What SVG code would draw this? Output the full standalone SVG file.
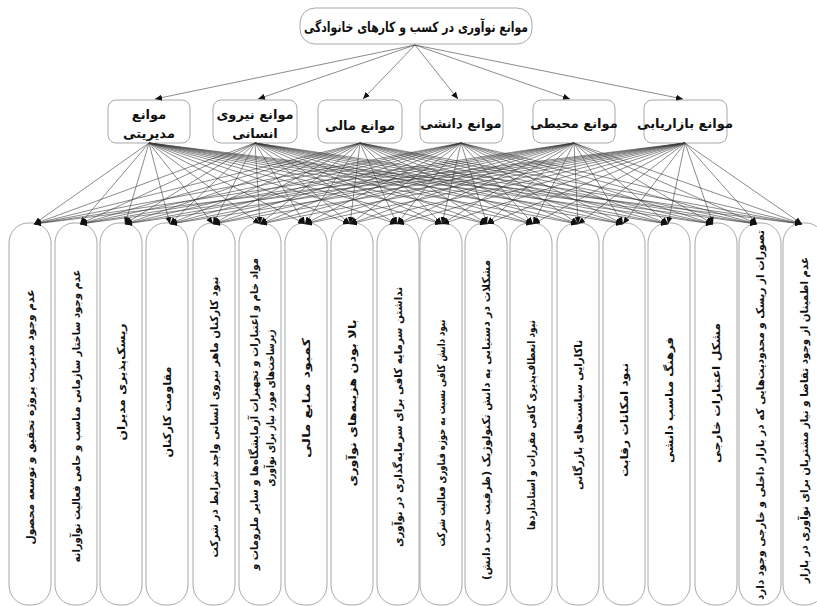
<svg xmlns="http://www.w3.org/2000/svg" width="817" height="606" viewBox="0 0 817 606">
<defs>
<marker id="ah" markerWidth="7" markerHeight="6" refX="7" refY="3" orient="auto" markerUnits="userSpaceOnUse"><path d="M0,0 L7,3 L0,6 z" fill="#111"/></marker>
<style>
.box{fill:#fff;stroke:#a8a8a8;stroke-width:1}
.e{stroke:#3c3c3c;stroke-width:0.6;fill:none;marker-end:url(#ah)}
.t{font-family:"DejaVu Sans","Noto Sans",sans-serif;font-weight:bold;fill:#111}
.m{font-size:13px;text-anchor:middle}
.b{font-size:11px;text-anchor:middle;dominant-baseline:central}
</style>
</defs>
<rect width="817" height="606" fill="#fff"/>

<g id="top">
<rect class="box" x="300" y="8" width="232" height="36" rx="15"/>
<text class="t m" x="416" y="32" direction="rtl" textLength="224" lengthAdjust="spacingAndGlyphs" style="font-size:14px">موانع نوآوری در کسب و کارهای خانوادگی</text>
</g>

<g id="m1"><rect class="box" x="108" y="100" width="82" height="43" rx="8"/>
<text class="t m" x="149" y="119" direction="rtl">موانع</text><text class="t m" x="149" y="138" direction="rtl">مدیریتی</text></g>
<g id="m2"><rect class="box" x="213" y="100" width="84" height="43" rx="8"/>
<text class="t m" x="255" y="119" direction="rtl">موانع نیروی</text><text class="t m" x="255" y="138" direction="rtl">انسانی</text></g>
<g id="m3"><rect class="box" x="318" y="100" width="84" height="43" rx="8"/>
<text class="t m" x="360" y="130" direction="rtl">موانع مالی</text></g>
<g id="m4"><rect class="box" x="420" y="100" width="83" height="43" rx="8"/>
<text class="t m" x="461" y="128" direction="rtl">موانع دانشی</text></g>
<g id="m5"><rect class="box" x="533" y="100" width="82" height="43" rx="8"/>
<text class="t m" x="574" y="128" direction="rtl">موانع محیطی</text></g>
<g id="m6"><rect class="box" x="644" y="100" width="83" height="43" rx="8"/>
<text class="t m" x="685" y="128" direction="rtl">موانع بازاریابی</text></g>

<g id="b1"><rect class="box" x="9" y="223" width="42" height="382" rx="19" ry="20"/>
<text class="t b" transform="translate(30,417) rotate(-90)" direction="rtl" textLength="255" lengthAdjust="spacingAndGlyphs">عدم وجود مدیریت پروژه تحقیق و توسعه محصول</text></g>
<g id="b2"><rect class="box" x="55" y="223" width="42" height="382" rx="19" ry="20"/>
<text class="t b" transform="translate(76,416) rotate(-90)" direction="rtl" textLength="293" lengthAdjust="spacingAndGlyphs">عدم وجود ساختار سازمانی مناسب و حامی فعالیت نوآورانه</text></g>
<g id="b3"><rect class="box" x="100" y="223" width="42" height="382" rx="19" ry="20"/>
<text class="t b" transform="translate(121,382) rotate(-90)" direction="rtl" textLength="117" lengthAdjust="spacingAndGlyphs">ریسک‌پذیری مدیران</text></g>
<g id="b4"><rect class="box" x="146" y="223" width="42" height="382" rx="19" ry="20"/>
<text class="t b" transform="translate(167,412) rotate(-90)" direction="rtl" textLength="91" lengthAdjust="spacingAndGlyphs">مقاومت کارکنان</text></g>
<g id="b5"><rect class="box" x="193" y="223" width="42" height="382" rx="19" ry="20"/>
<text class="t b" transform="translate(214,417) rotate(-90)" direction="rtl" textLength="281" lengthAdjust="spacingAndGlyphs">نبود کارکنان ماهر نیروی انسانی واجد شرایط در شرکت</text></g>
<g id="b6"><rect class="box" x="239" y="223" width="42" height="382" rx="19" ry="20"/>
<text class="t b" transform="translate(254,414) rotate(-90)" direction="rtl" textLength="312" lengthAdjust="spacingAndGlyphs">مواد خام و اعتبارات و تجهیزات آزمایشگاه‌ها و سایر ملزومات و</text>
<text class="t b" transform="translate(270,408) rotate(-90)" direction="rtl" textLength="157" lengthAdjust="spacingAndGlyphs">زیرساخت‌های مورد نیاز برای نوآوری</text></g>
<g id="b7"><rect class="box" x="285" y="223" width="42" height="382" rx="19" ry="20"/>
<text class="t b" transform="translate(306,398) rotate(-90)" direction="rtl" textLength="120" lengthAdjust="spacingAndGlyphs">کمبود منابع مالی</text></g>
<g id="b8"><rect class="box" x="331" y="223" width="42" height="382" rx="19" ry="20"/>
<text class="t b" transform="translate(352,403) rotate(-90)" direction="rtl" textLength="167" lengthAdjust="spacingAndGlyphs">بالا بودن هزینه‌های نوآوری</text></g>
<g id="b9"><rect class="box" x="377" y="223" width="42" height="382" rx="19" ry="20"/>
<text class="t b" transform="translate(398,417) rotate(-90)" direction="rtl" textLength="260" lengthAdjust="spacingAndGlyphs">نداشتن سرمایه کافی برای سرمایه‌گذاری در نوآوری</text></g>
<g id="b10"><rect class="box" x="420" y="223" width="42" height="382" rx="19" ry="20"/>
<text class="t b" transform="translate(441,433) rotate(-90)" direction="rtl" textLength="227" lengthAdjust="spacingAndGlyphs">نبود دانش کافی نسبت به حوزه فناوری فعالیت شرکت</text></g>
<g id="b11"><rect class="box" x="465" y="223" width="42" height="382" rx="19" ry="20"/>
<text class="t b" transform="translate(486,420) rotate(-90)" direction="rtl" textLength="320" lengthAdjust="spacingAndGlyphs">مشکلات در دستیابی به دانش تکنولوژیک (ظرفیت جذب دانش)</text></g>
<g id="b12"><rect class="box" x="510" y="223" width="42" height="382" rx="19" ry="20"/>
<text class="t b" transform="translate(531,425) rotate(-90)" direction="rtl" textLength="210" lengthAdjust="spacingAndGlyphs">نبود انعطاف‌پذیری کافی مقررات و استانداردها</text></g>
<g id="b13"><rect class="box" x="557" y="223" width="42" height="382" rx="19" ry="20"/>
<text class="t b" transform="translate(578,415) rotate(-90)" direction="rtl" textLength="150" lengthAdjust="spacingAndGlyphs">ناکارایی سیاست‌های بازرگانی</text></g>
<g id="b14"><rect class="box" x="603" y="223" width="42" height="382" rx="19" ry="20"/>
<text class="t b" transform="translate(624,420) rotate(-90)" direction="rtl" textLength="114" lengthAdjust="spacingAndGlyphs">نبود امکانات رقابت</text></g>
<g id="b15"><rect class="box" x="648" y="223" width="42" height="382" rx="19" ry="20"/>
<text class="t b" transform="translate(669,400) rotate(-90)" direction="rtl" textLength="126" lengthAdjust="spacingAndGlyphs">فرهنگ مناسب دانشی</text></g>
<g id="b16"><rect class="box" x="695" y="223" width="42" height="382" rx="19" ry="20"/>
<text class="t b" transform="translate(716,393) rotate(-90)" direction="rtl" textLength="140" lengthAdjust="spacingAndGlyphs">مشکل اعتبارات خارجی</text></g>
<g id="b17"><rect class="box" x="739" y="223" width="42" height="382" rx="19" ry="20"/>
<text class="t b" transform="translate(760,415) rotate(-90)" direction="rtl" textLength="370" lengthAdjust="spacingAndGlyphs">تصورات از ریسک و محدودیت‌هایی که در بازار داخلی و خارجی وجود دارد</text></g>
<g id="b18"><rect class="box" x="783" y="223" width="42" height="382" rx="19" ry="20"/>
<text class="t b" transform="translate(804,420) rotate(-90)" direction="rtl" textLength="326" lengthAdjust="spacingAndGlyphs">عدم اطمینان از وجود تقاضا و نیاز مشتریان برای نوآوری در بازار</text></g>

<g id="connectors">
<line class="e" x1="415" y1="45" x2="155" y2="99"/>
<line class="e" x1="415" y1="45" x2="258" y2="99"/>
<line class="e" x1="415" y1="45" x2="363" y2="99"/>
<line class="e" x1="415" y1="45" x2="458" y2="99"/>
<line class="e" x1="415" y1="45" x2="570" y2="99"/>
<line class="e" x1="415" y1="45" x2="683" y2="99"/>

<line class="e" x1="149" y1="143" x2="34" y2="224"/>
<line class="e" x1="149" y1="143" x2="80" y2="224"/>
<line class="e" x1="149" y1="143" x2="125" y2="224"/>
<line class="e" x1="149" y1="143" x2="170" y2="224"/>
<line class="e" x1="149" y1="143" x2="213" y2="224"/>
<line class="e" x1="149" y1="143" x2="260" y2="224"/>
<line class="e" x1="149" y1="143" x2="305" y2="224"/>
<line class="e" x1="149" y1="143" x2="350" y2="224"/>
<line class="e" x1="149" y1="143" x2="397" y2="224"/>
<line class="e" x1="149" y1="143" x2="442" y2="224"/>
<line class="e" x1="149" y1="143" x2="487" y2="224"/>
<line class="e" x1="149" y1="143" x2="533" y2="224"/>
<line class="e" x1="149" y1="143" x2="578" y2="224"/>
<line class="e" x1="149" y1="143" x2="623" y2="224"/>
<line class="e" x1="149" y1="143" x2="668" y2="224"/>
<line class="e" x1="149" y1="143" x2="713" y2="224"/>
<line class="e" x1="149" y1="143" x2="757" y2="224"/>
<line class="e" x1="149" y1="143" x2="802" y2="224"/>

<line class="e" x1="255" y1="143" x2="34" y2="224"/>
<line class="e" x1="255" y1="143" x2="80" y2="224"/>
<line class="e" x1="255" y1="143" x2="125" y2="224"/>
<line class="e" x1="255" y1="143" x2="170" y2="224"/>
<line class="e" x1="255" y1="143" x2="213" y2="224"/>
<line class="e" x1="255" y1="143" x2="260" y2="224"/>
<line class="e" x1="255" y1="143" x2="305" y2="224"/>
<line class="e" x1="255" y1="143" x2="350" y2="224"/>
<line class="e" x1="255" y1="143" x2="397" y2="224"/>
<line class="e" x1="255" y1="143" x2="442" y2="224"/>
<line class="e" x1="255" y1="143" x2="487" y2="224"/>
<line class="e" x1="255" y1="143" x2="533" y2="224"/>
<line class="e" x1="255" y1="143" x2="578" y2="224"/>
<line class="e" x1="255" y1="143" x2="623" y2="224"/>
<line class="e" x1="255" y1="143" x2="668" y2="224"/>
<line class="e" x1="255" y1="143" x2="713" y2="224"/>
<line class="e" x1="255" y1="143" x2="757" y2="224"/>
<line class="e" x1="255" y1="143" x2="802" y2="224"/>

<line class="e" x1="360" y1="143" x2="34" y2="224"/>
<line class="e" x1="360" y1="143" x2="80" y2="224"/>
<line class="e" x1="360" y1="143" x2="125" y2="224"/>
<line class="e" x1="360" y1="143" x2="170" y2="224"/>
<line class="e" x1="360" y1="143" x2="213" y2="224"/>
<line class="e" x1="360" y1="143" x2="260" y2="224"/>
<line class="e" x1="360" y1="143" x2="305" y2="224"/>
<line class="e" x1="360" y1="143" x2="350" y2="224"/>
<line class="e" x1="360" y1="143" x2="397" y2="224"/>
<line class="e" x1="360" y1="143" x2="442" y2="224"/>
<line class="e" x1="360" y1="143" x2="487" y2="224"/>
<line class="e" x1="360" y1="143" x2="533" y2="224"/>
<line class="e" x1="360" y1="143" x2="578" y2="224"/>
<line class="e" x1="360" y1="143" x2="623" y2="224"/>
<line class="e" x1="360" y1="143" x2="668" y2="224"/>
<line class="e" x1="360" y1="143" x2="713" y2="224"/>
<line class="e" x1="360" y1="143" x2="757" y2="224"/>
<line class="e" x1="360" y1="143" x2="802" y2="224"/>

<line class="e" x1="461" y1="143" x2="34" y2="224"/>
<line class="e" x1="461" y1="143" x2="80" y2="224"/>
<line class="e" x1="461" y1="143" x2="125" y2="224"/>
<line class="e" x1="461" y1="143" x2="170" y2="224"/>
<line class="e" x1="461" y1="143" x2="213" y2="224"/>
<line class="e" x1="461" y1="143" x2="260" y2="224"/>
<line class="e" x1="461" y1="143" x2="305" y2="224"/>
<line class="e" x1="461" y1="143" x2="350" y2="224"/>
<line class="e" x1="461" y1="143" x2="397" y2="224"/>
<line class="e" x1="461" y1="143" x2="442" y2="224"/>
<line class="e" x1="461" y1="143" x2="487" y2="224"/>
<line class="e" x1="461" y1="143" x2="533" y2="224"/>
<line class="e" x1="461" y1="143" x2="578" y2="224"/>
<line class="e" x1="461" y1="143" x2="623" y2="224"/>
<line class="e" x1="461" y1="143" x2="668" y2="224"/>
<line class="e" x1="461" y1="143" x2="713" y2="224"/>
<line class="e" x1="461" y1="143" x2="757" y2="224"/>
<line class="e" x1="461" y1="143" x2="802" y2="224"/>

<line class="e" x1="574" y1="143" x2="34" y2="224"/>
<line class="e" x1="574" y1="143" x2="80" y2="224"/>
<line class="e" x1="574" y1="143" x2="125" y2="224"/>
<line class="e" x1="574" y1="143" x2="170" y2="224"/>
<line class="e" x1="574" y1="143" x2="213" y2="224"/>
<line class="e" x1="574" y1="143" x2="260" y2="224"/>
<line class="e" x1="574" y1="143" x2="305" y2="224"/>
<line class="e" x1="574" y1="143" x2="350" y2="224"/>
<line class="e" x1="574" y1="143" x2="397" y2="224"/>
<line class="e" x1="574" y1="143" x2="442" y2="224"/>
<line class="e" x1="574" y1="143" x2="487" y2="224"/>
<line class="e" x1="574" y1="143" x2="533" y2="224"/>
<line class="e" x1="574" y1="143" x2="578" y2="224"/>
<line class="e" x1="574" y1="143" x2="623" y2="224"/>
<line class="e" x1="574" y1="143" x2="668" y2="224"/>
<line class="e" x1="574" y1="143" x2="713" y2="224"/>
<line class="e" x1="574" y1="143" x2="757" y2="224"/>
<line class="e" x1="574" y1="143" x2="802" y2="224"/>

<line class="e" x1="685" y1="143" x2="34" y2="224"/>
<line class="e" x1="685" y1="143" x2="80" y2="224"/>
<line class="e" x1="685" y1="143" x2="125" y2="224"/>
<line class="e" x1="685" y1="143" x2="170" y2="224"/>
<line class="e" x1="685" y1="143" x2="213" y2="224"/>
<line class="e" x1="685" y1="143" x2="260" y2="224"/>
<line class="e" x1="685" y1="143" x2="305" y2="224"/>
<line class="e" x1="685" y1="143" x2="350" y2="224"/>
<line class="e" x1="685" y1="143" x2="397" y2="224"/>
<line class="e" x1="685" y1="143" x2="442" y2="224"/>
<line class="e" x1="685" y1="143" x2="487" y2="224"/>
<line class="e" x1="685" y1="143" x2="533" y2="224"/>
<line class="e" x1="685" y1="143" x2="578" y2="224"/>
<line class="e" x1="685" y1="143" x2="623" y2="224"/>
<line class="e" x1="685" y1="143" x2="668" y2="224"/>
<line class="e" x1="685" y1="143" x2="713" y2="224"/>
<line class="e" x1="685" y1="143" x2="757" y2="224"/>
<line class="e" x1="685" y1="143" x2="802" y2="224"/>
</g>
</svg>
